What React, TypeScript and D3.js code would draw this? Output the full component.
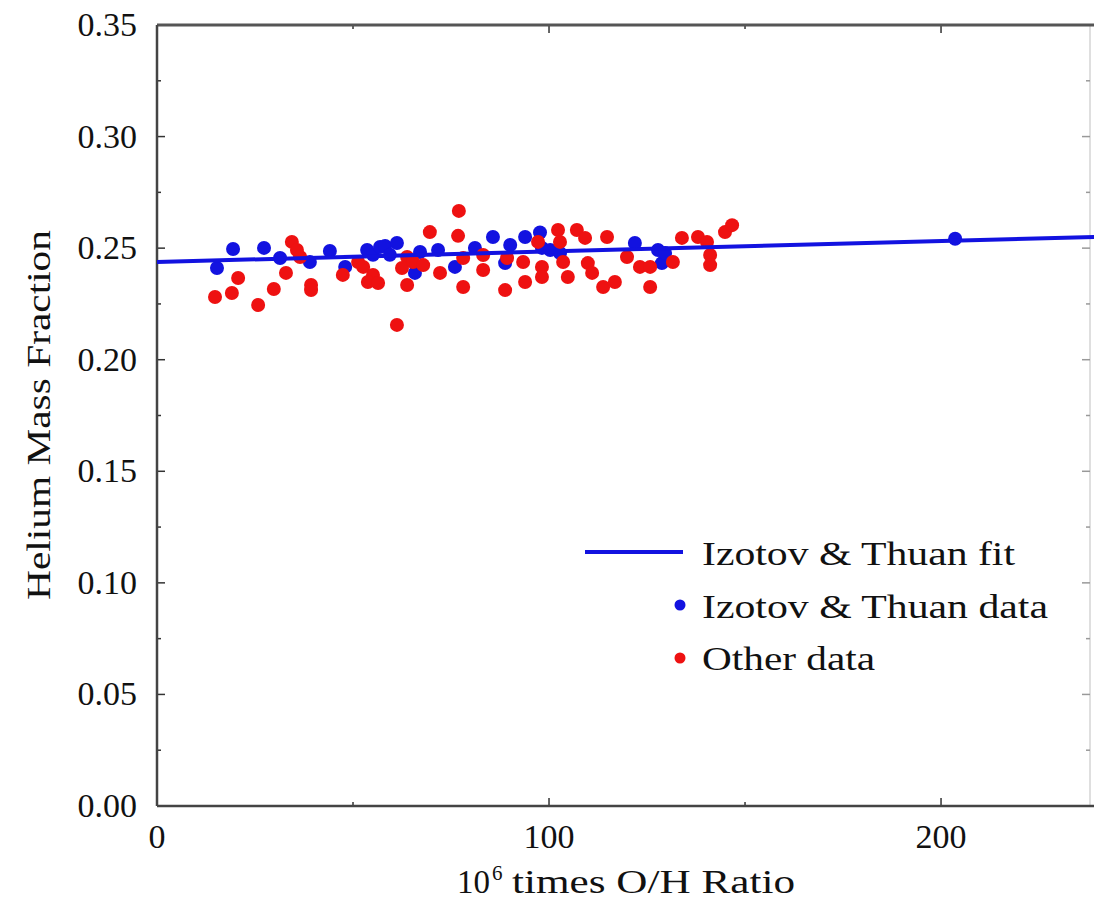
import React from "react";
import * as d3 from "d3";

const izotovX = [15.3, 19.4, 27.3, 31.4, 39.0, 44.1, 48.0, 53.6, 55.1, 56.9, 58.2, 59.4, 61.2, 65.8, 67.1, 71.7, 76.0, 81.1, 85.7, 90.1, 88.8, 93.9, 97.7, 98.2, 100.3, 102.8, 121.9, 127.8, 128.8, 129.6, 203.6];
const izotovY = [0.2411, 0.2496, 0.2501, 0.2456, 0.2438, 0.2487, 0.2416, 0.2492, 0.247, 0.2505, 0.251, 0.247, 0.2523, 0.2389, 0.2483, 0.2492, 0.2416, 0.2501, 0.255, 0.2514, 0.2433, 0.255, 0.257, 0.2501, 0.2492, 0.2478, 0.2523, 0.2492, 0.2433, 0.2478, 0.2542];

const otherX = [14.8, 19.1, 20.7, 25.8, 29.8, 32.9, 34.4, 35.7, 36.5, 39.3, 39.3, 47.4, 51.3, 52.6, 55.1, 53.8, 56.4, 61.2, 63.8, 62.5, 63.8, 65.3, 67.9, 69.6, 72.2, 76.8, 77.0, 78.1, 78.1, 83.2, 83.2, 88.8, 89.3, 93.4, 93.9, 97.2, 98.2, 98.2, 102.3, 102.8, 103.6, 104.8, 107.1, 109.2, 109.9, 111.0, 114.8, 113.8, 116.8, 119.9, 123.2, 125.8, 125.8, 131.6, 133.9, 138.0, 140.3, 141.1, 141.1, 144.9, 146.7];
const otherY = [0.2281, 0.2299, 0.2366, 0.2245, 0.2317, 0.2389, 0.2528, 0.2492, 0.246, 0.2335, 0.2312, 0.238, 0.2438, 0.2416, 0.238, 0.2348, 0.2344, 0.2156, 0.246, 0.2411, 0.2335, 0.2438, 0.2424, 0.2572, 0.2389, 0.2555, 0.2667, 0.2456, 0.2326, 0.2469, 0.2402, 0.2312, 0.2456, 0.2438, 0.2348, 0.2528, 0.2416, 0.2371, 0.2581, 0.2528, 0.2438, 0.2371, 0.2581, 0.2546, 0.2433, 0.2389, 0.255, 0.2326, 0.2348, 0.246, 0.2416, 0.2416, 0.2326, 0.2438, 0.2546, 0.255, 0.2528, 0.2469, 0.2424, 0.2572, 0.2603];

const fitIntercept = 0.2438;
const fitSlope = 0.0000469;
const fitX = [0, 240];

const yTicks = [0, 0.05, 0.1, 0.15, 0.2, 0.25, 0.3, 0.35];
const yMinor = [0.025, 0.075, 0.125, 0.175, 0.225, 0.275, 0.325];
const xTicks = [0, 100, 200];
const xMinor = [50, 150];
const legendLabels = ["Izotov & Thuan fit", "Izotov & Thuan data", "Other data"];
const legendWidths = [313, 346, 173];

const BLUE = "#1212e0";
const RED = "#ee1111";
const FONT = "'Liberation Serif', 'Times New Roman', serif";

export default function App() {
  const left = 157, right = 1090, top = 25, bottom = 806;
  const x = d3.scaleLinear().domain([0, 238]).range([left, right]);
  const y = d3.scaleLinear().domain([0, 0.35]).range([bottom, top]);
  const line = d3.line<number>().x((d) => x(d)).y((d) => y(fitIntercept + fitSlope * d));

  return (
    <svg width={1094} height={901} style={{ position: "absolute", left: 0, top: 0, background: "#fff" }} fontFamily={FONT}>
      <defs>
        <clipPath id="clip">
          <rect x={left} y={top} width={1094 - left} height={bottom - top} />
        </clipPath>
      </defs>
      <line x1={right} x2={right} y1={top} y2={bottom} stroke="#d4d4d4" strokeWidth={1.5} />
      {yTicks.map((t) => (
        <g key={"yt" + t}>
          <line x1={left} x2={left + 8} y1={y(t)} y2={y(t)} stroke="#333" strokeWidth={1.5} />
          <line x1={right} x2={right - 8} y1={y(t)} y2={y(t)} stroke="#999" strokeWidth={1.5} />
          <text x={137} y={y(t)} dy={11} textAnchor="end" fontSize={34} fill="#111">{t.toFixed(2)}</text>
        </g>
      ))}
      {yMinor.map((t) => (
        <g key={"ym" + t}>
          <line x1={left} x2={left + 4} y1={y(t)} y2={y(t)} stroke="#333" strokeWidth={1.5} />
          <line x1={right} x2={right - 4} y1={y(t)} y2={y(t)} stroke="#999" strokeWidth={1.5} />
        </g>
      ))}
      {xTicks.map((t) => (
        <g key={"xt" + t}>
          <line x1={x(t)} x2={x(t)} y1={bottom} y2={bottom - 8} stroke="#333" strokeWidth={1.5} />
          <line x1={x(t)} x2={x(t)} y1={top} y2={top + 8} stroke="#333" strokeWidth={1.5} />
          <text x={x(t)} y={848} textAnchor="middle" fontSize={34} fill="#111">{t}</text>
        </g>
      ))}
      {xMinor.map((t) => (
        <g key={"xm" + t}>
          <line x1={x(t)} x2={x(t)} y1={bottom} y2={bottom - 4} stroke="#333" strokeWidth={1.5} />
          <line x1={x(t)} x2={x(t)} y1={top} y2={top + 4} stroke="#333" strokeWidth={1.5} />
        </g>
      ))}
      <line x1={left} x2={1094} y1={top} y2={top} stroke="#555" strokeWidth={3} />
      <line x1={left} x2={1094} y1={bottom} y2={bottom} stroke="#444" strokeWidth={2.5} />
      <line x1={left} x2={left} y1={top} y2={bottom} stroke="#444" strokeWidth={2.5} />

      <g clipPath="url(#clip)">
        {izotovX.map((v, i) => (
          <circle key={"b" + i} cx={x(v)} cy={y(izotovY[i])} r={7} fill={BLUE} />
        ))}
        {otherX.map((v, i) => (
          <circle key={"r" + i} cx={x(v)} cy={y(otherY[i])} r={7} fill={RED} />
        ))}
        <path d={line(fitX) || ""} stroke={BLUE} strokeWidth={4} fill="none" />
      </g>

      <line x1={585} x2={683} y1={552} y2={552} stroke={BLUE} strokeWidth={4} />
      <text x={702} y={565} fontSize={34} fill="#111" textLength={legendWidths[0]} lengthAdjust="spacingAndGlyphs">{legendLabels[0]}</text>
      <circle cx={680} cy={605} r={5.5} fill={BLUE} />
      <text x={702} y={618} fontSize={34} fill="#111" textLength={legendWidths[1]} lengthAdjust="spacingAndGlyphs">{legendLabels[1]}</text>
      <circle cx={680} cy={658} r={5.5} fill={RED} />
      <text x={702} y={670} fontSize={34} fill="#111" textLength={legendWidths[2]} lengthAdjust="spacingAndGlyphs">{legendLabels[2]}</text>

      <text x={457} y={893} fontSize={34} fill="#111" textLength={33} lengthAdjust="spacingAndGlyphs">10</text>
      <text x={492} y={880} fontSize={21} fill="#111">6</text>
      <text x={512} y={893} fontSize={34} fill="#111" textLength={283} lengthAdjust="spacingAndGlyphs">times O/H Ratio</text>
      <text transform="translate(50,600) rotate(-90)" fontSize={34} fill="#111" textLength={370} lengthAdjust="spacingAndGlyphs">Helium Mass Fraction</text>
    </svg>
  );
}
